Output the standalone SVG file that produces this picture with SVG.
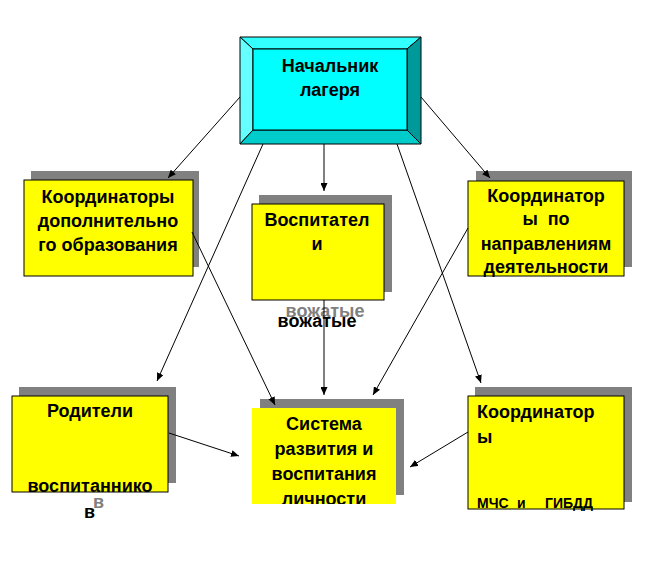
<svg xmlns="http://www.w3.org/2000/svg" width="649" height="577" viewBox="0 0 649 577">
<style>
text{font-family:"Liberation Sans",Arial,sans-serif;font-weight:bold;font-size:18px;fill:#000}
.c{text-anchor:middle}
.g{fill:#808080}
.sh{fill:#808080}
.box{fill:#ffff00;stroke:#000;stroke-width:1}
.nb{fill:#ffff00}
.ln{stroke:#000;stroke-width:1;fill:none;marker-end:url(#ah)}
.bv{stroke:#000;stroke-width:1}
</style>
<defs>
<marker id="ah" markerUnits="userSpaceOnUse" markerWidth="9" markerHeight="7" refX="8" refY="3.5" orient="auto">
<path d="M0,0 L8,3.5 L0,7 z" fill="#000"/>
</marker>
<clipPath id="cs"><rect x="252" y="408" width="144" height="96"/></clipPath>
</defs>
<rect width="649" height="577" fill="#fff"/>

<g id="head">
<polygon class="bv" points="240,37 421,37 407,49 253,49" fill="#33ffff"/>
<polygon class="bv" points="240,37 253,49 253,130 240,144" fill="#66ffff"/>
<polygon class="bv" points="421,37 421,144 407,130 407,49" fill="#009999"/>
<polygon class="bv" points="240,144 421,144 407,130 253,130" fill="#00cccc"/>
<rect class="bv" x="253" y="49" width="154" height="81" fill="#00ffff"/>
<text class="c" x="330" y="72">Начальник</text>
<text class="c" x="330" y="96">лагеря</text>
</g>

<g id="coord-dop">
<rect class="sh" x="31" y="171" width="168" height="96"/>
<rect class="box" x="24" y="180" width="169" height="96"/>
<text class="c" x="108" y="203">Координаторы</text>
<text class="c" x="108" y="227">дополнительно</text>
<text class="c" x="108" y="251">го образования</text>
</g>

<g id="vospitateli">
<rect class="sh" x="259" y="195" width="133" height="97"/>
<rect class="box" x="252" y="204" width="132" height="96"/>
<text class="c" x="317" y="226">Воспитател</text>
<text class="c" x="317" y="250">и</text>
<text class="c g" x="325" y="317">вожатые</text>
<text class="c" x="317" y="327">вожатые</text>
</g>

<g id="coord-napr">
<rect class="sh" x="476" y="171" width="156" height="96"/>
<rect class="box" x="468" y="181" width="156" height="95"/>
<text class="c" x="546" y="202">Координатор</text>
<text class="c" x="546" y="225" xml:space="preserve">ы  по</text>
<text class="c" x="546" y="250">направлениям</text>
<text class="c" x="546" y="273">деятельности</text>
</g>

<g id="roditeli">
<rect class="sh" x="19" y="387" width="157" height="96"/>
<rect class="box" x="12" y="396" width="156" height="96"/>
<text class="c" x="90" y="417">Родители</text>
<text class="c" x="90" y="492">воспитаннико</text>
<text class="g" x="93" y="508">в</text>
<text x="84" y="518">в</text>
</g>

<g id="sistema">
<rect class="sh" x="260" y="399" width="144" height="96"/>
<rect class="nb" x="252" y="408" width="144" height="96"/>
<g clip-path="url(#cs)">
<text class="c" x="324" y="430">Система</text>
<text class="c" x="324" y="455">развития и</text>
<text class="c" x="324" y="480">воспитания</text>
<text class="c" x="324" y="505">личности</text>
</g>
</g>

<g id="coord-mchs">
<rect class="sh" x="475" y="387" width="157" height="115"/>
<rect class="box" x="468" y="396" width="156" height="113"/>
<text x="477" y="418">Координатор</text>
<text x="477" y="443">ы</text>
<text style="font-size:14px" y="508"><tspan x="477">МЧС</tspan><tspan x="517">и</tspan><tspan x="545">ГИБДД</tspan></text>
</g>

<g id="connectors">
<line class="ln" x1="240" y1="97" x2="168" y2="178"/>
<line class="ln" x1="324" y1="144" x2="324" y2="191"/>
<line class="ln" x1="421" y1="97" x2="490" y2="178"/>
<line class="ln" x1="263" y1="144" x2="157" y2="381"/>
<line class="ln" x1="397" y1="144" x2="481" y2="383"/>
<line class="ln" x1="192" y1="232" x2="275" y2="405"/>
<line class="ln" x1="324" y1="300" x2="324" y2="395"/>
<line class="ln" x1="468" y1="228" x2="373" y2="395"/>
<line class="ln" x1="169" y1="433" x2="239" y2="456"/>
<line class="ln" x1="468" y1="432" x2="410" y2="467"/>
</g>
</svg>
